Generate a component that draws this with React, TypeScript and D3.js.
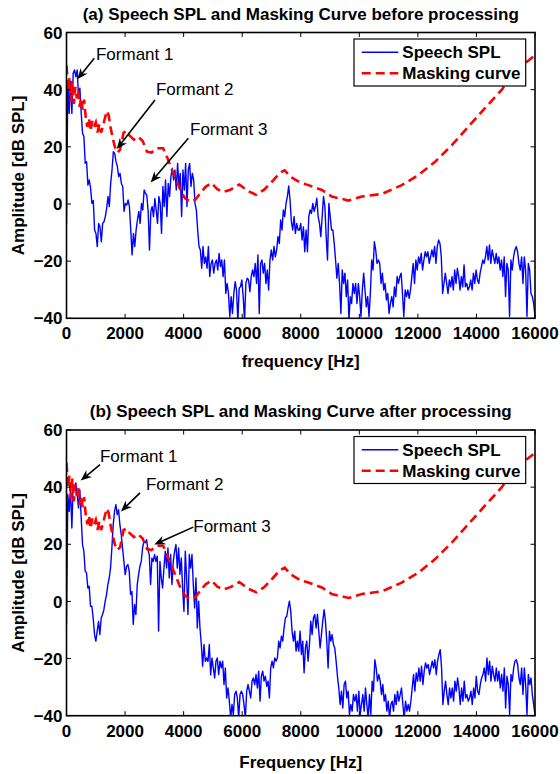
import * as d3 from 'd3';

// x axis: frequency in Hz, y axis: level in dB SPL
const FREQ_MAX = 16000;
const xTicks = [0, 2000, 4000, 6000, 8000, 10000, 12000, 14000, 16000];
const yTicks = [-40, -20, 0, 20, 40, 60];

// speech spectrum before processing, evenly spaced 0..16000 Hz
const speechBefore = [
  -6.8, 43, 31.7, 43, 31.7, 45.7, 46.9, 44.5, 46.9, 37.5, 40.5, 31.7, 24.7, 23.6, 14.2, 14.8, 6.6, 8.4, 5.5, 0.2,
  1.2, -9.1, -10.3, -14.9, -6.8, -8.0, -13.2, -6.8, -6.2, -4.4, -1.5, 2.6, -0.9, 7.2, 11.9, 18.3, 17.7, 14.8, 13.1, 9.6,
  10.7, 7.2, 6.1, -2.6, 0.2, -0.4, 1.4, -0.9, -9.1, -17.8, -10.3, -14.9, -9.1, -5.6, -2.6, -6.8, 0.2, -2.1, 4.9, 3.7,
  3.1, -2.6, -16.1, -2.6, -0.9, -4.4, 1.9, -2.1, -6.8, 2.6, 0.2, -10.3, 6.1, -0.9, 8.4, -4.4, 7.2, 2.6, 9.6, 12.5,
  8.4, 11.9, 4.9, 14.2, 6.1, 10.7, -4.4, 11.9, 4.9, 14.2, -0.9, 11.9, 14.2, 6.1, 10.7, 8.4, 0.2, -2.1, -9.1, -14.9,
  -16.1, -22.5, -14.9, -20.8, -18.5, -22.5, -14.9, -25.4, -20.8, -19.6, -24.2, -20.8, -19.6, -23.1, -17.3, -21.9, -19.6, -25.4, -19.6, -31.3,
  -27.8, -31.3, -39.4, -32.4, -38.3, -31.3, -27.2, -30.1, -41, -29.5, -28.9, -26.6, -32.4, -41, -27.8, -26.0, -26.6, -30.7, -25.4, -23.1,
  -25.4, -20.8, -27.8, -17.8, -38.3, -20.8, -19.6, -24.2, -20.8, -27.8, -23.1, -30.1, -19.6, -16.1, -19.6, -14.9, -18.5, -16.1, -11.4, -13.8,
  -5.6, -9.1, -2.1, -4.4, 0.2, 2.6, 6.3, 1.4, -6.2, -9.1, -4.4, -10.3, -6.8, -9.1,
  -9.1, -6.8, -12.6, -8.0, -16.7, -9.1, -16.7, -4.4, -2.1, -3.3, 0.2, -2.6, -0.9, 2.0, -4.4, -6.8, -11.4, -4.4, 2.6, -0.9,
  -11.4, -19.6, 0.2, -4.4, -9.1, -9.1, -13.8, -19.6, -26.0, -20.8, -27.8, -38.3, -23.1, -27.8, -24.2, -32.4, -26.6, -40.5, -32.4, -34.8,
  -27.8, -31.3, -27.8, -34.8, -27.8, -32.4, -39.4, -30.1, -24.2, -30.1, -36.0, -32.4, -39.4, -31.3, -19.6, -23.1, -13.2, -16.1, -20.8, -19.6,
  -20.8, -27.8, -24.2, -30.1, -27.8, -33.6, -31.3, -38.3, -34.8, -32.4, -36.0, -29.0, -32.4, -25.4, -27.8, -25.4, -24.2, -31.3, -39.4, -30.1,
  -32.4, -30.1, -33.0, -30.1, -25.4, -20.8, -27.8, -19.6, -23.1, -18.5, -20.8, -17.3, -23.1, -19.6, -16.7, -18.5, -16.7, -20.8, -18.5, -16.1,
  -18.5, -14.9, -20.8, -14.9, -12.6, -13.8, -18.5, -31.3, -27.8, -24.2, -27.8, -31.3, -26.6, -29.0, -25.4, -30.1, -23.1, -27.8, -22.5, -25.4,
  -30.1, -25.4, -29.0, -21.3, -29.0, -27.8, -30.1, -29.0, -26.6, -30.1, -24.2, -27.8, -23.1, -26.6, -27.8, -24.2, -21.9, -19.6, -20.8, -18.5,
  -14.9, -19.6, -14.3, -20.8, -16.1, -18.5, -20.8, -17.3, -20.8, -18.5, -23.1, -19.6, -25.4, -18.5, -32.4, -20.8, -23.1, -39.4, -19.6, -23.1,
  -18.5, -16.1, -14.9, -16.7, -20.8, -23.1, -18.5, -27.8, -18.5, -23.1, -39.4, -20.8, -23.1, -31.3, -32.4, -34.8, -39.4,
];

// speech spectrum after processing, evenly spaced 0..16000 Hz
const speechAfter = [
  -8.1, 37.4, 31.5, 39.7, 25.7, 40.3, 39.1, 41.5, 37.4, 32.7, 39.1, 29.4, 19.9, 17.6, 10.6, 10.0, 4.7, 5.3, -1.7, -1.7,
  -5.8, -11.6, -13.9, -10.4, -7.0, -11.6, -5.8, -4.6, -2.9, 0.1, 2.4, 5.9, 8.2, 11.7, 18.7, 26.9, 31.5, 33.9, 30.4, 32.1,
  26.9, 23.4, 18.7, 14.0, 9.4, 12.3, 12.9, 10.6, 2.4, 3.5, -8.1, -1.1, -4.6, 5.9, 9.4, 12.3, 14.0, 18.7, 21.0, 20.5,
  21.6, 18.1, 16.4, 5.9, 15.2, 14.0, 16.4, 14.0, 15.8, -10.4, 14.0, 8.2, 4.7, 11.7, 17.6, 11.7, 18.7, 8.2, 16.4, 5.9,
  14.0, 17.6, 19.9, 11.7, 18.7, 9.4, 15.2, 4.7, -3.5, 17.6, 8.2, -4.6, 16.4, 11.7, 16.4, 5.9, -2.3, 8.2, -9.3, 0.1,
  -9.3, -15.1, -22.7, -15.1, -21.0, -19.8, -21.0, -15.1, -25.7, -19.8, -23.3,
  -26.8, -20.9, -19.8, -25.6, -20.9, -23.3, -20.9, -29.1, -23.3, -33.8, -30.3, -34.9, -40.8, -36.1, -39.6, -32.6, -31.4, -33.8, -40.8, -32.6,
  -31.4, -32.6, -36.1, -40.8, -31.4, -29.1, -31.4, -33.8, -27.9, -26.8, -29.1, -25.6, -30.3, -24.4, -34.9, -26.2, -24.4, -27.9, -26.2, -29.7,
  -27.9, -33.8, -23.3, -20.9, -23.3, -19.8, -20.9, -19.8, -13.9, -16.3, -12.2, -13.9, -9.3, -5.8, -5.2, -2.3, 0.1, -3.4, -10.4, -13.9,
  -10.4, -17.4, -13.9, -17.4,
  -10.4, -18.6, -13.9, -25.0, -16.3, -13.9, -20.9, -15.1, -6.9, -11.6, -5.8, -4.6, -9.3, -4.6, -10.4, -16.3, -11.6, -6.9, -2.9, -6.9,
  -13.9, -23.3, -10.4, -13.9, -11.6, -15.1, -16.3, -20.9, -26.2, -30.3, -36.1, -31.4, -37.3, -29.1, -27.9, -33.8, -31.4, -39.6, -36.1, -38.4,
  -32.6, -34.9, -32.6, -38.4, -31.4, -39.6, -36.1, -32.6, -38.4, -30.3, -36.1, -40.8, -32.6, -39.6, -27.9, -31.4, -20.4, -23.3, -27.9, -25.6,
  -27.9, -32.6, -29.1, -34.9, -32.6, -38.4, -34.9, -40.8, -36.1, -34.9, -38.4, -32.6, -36.1, -31.4, -34.9, -32.6, -30.3, -36.1, -40.8, -34.9,
  -38.4, -36.1, -38.4, -34.9, -30.3, -25.6, -31.4, -25.0, -27.9, -23.3, -27.9, -22.7, -29.1, -24.4, -21.5, -23.3, -22.1, -25.6, -23.3, -20.9,
  -23.3, -20.4, -25.6, -20.9, -18.6, -16.9, -23.3, -36.1, -31.4, -27.9, -32.6, -36.1, -30.3, -33.8, -30.3, -34.9, -27.9, -31.4, -26.8, -30.3,
  -36.1, -30.3, -34.9, -27.9, -33.8, -32.6, -34.9, -33.8, -31.4, -36.1, -30.3, -33.8, -26.2, -31.4, -32.6, -29.1, -26.8, -25.6, -23.3, -27.9,
  -19.8, -25.6, -20.9, -27.9, -22.7, -25.6, -27.9, -23.3, -27.9, -24.4, -30.3, -25.6, -31.4, -23.3, -37.3, -26.2, -29.1, -39.6, -25.6, -27.9,
  -23.3, -20.9, -20.4, -22.1, -26.8, -29.1, -23.3, -32.6, -23.3, -29.1, -39.6, -25.6, -29.1, -26.8, -32.6, -36.1, -39.6,
];

// masking threshold (same in both panels)
const maskFreq = [
  0, 60, 100, 150, 200, 250, 300, 350, 400, 450, 500, 550, 600, 660, 710, 770, 820, 880, 940, 1000,
  1060, 1120, 1180, 1240, 1310, 1380, 1440, 1500, 1570, 1650, 1740, 1830, 1950, 2050, 2150, 2300, 2450, 2600, 2750, 2900,
  3100, 3300, 3450, 3600, 3750, 3900, 4050, 4250, 4400, 4550, 4750, 4950, 5150, 5350, 5600, 5900, 6200, 6480, 6750, 7050,
  7300, 7450, 7650, 7960, 8260, 8720, 9060, 9630, 10090, 10770, 11450, 12020, 12590, 13160, 13720, 14290, 14860, 15320, 16000,
];
const maskLevel = [
  48.5, 40, 44, 36, 43, 35, 41, 37, 40, 34, 37, 33, 36.5, 30, 27, 30, 25.5, 29, 27, 28.5,
  25, 28, 25, 27, 30, 32.5, 31, 27, 23.5, 20, 18, 19, 25, 25.5, 24, 22.5, 23.5, 22, 18.3, 18,
  19.5, 19.5, 16, 12, 8.5, 4.5, 2, 0.8, 1.5, 3.5, 6, 7.3, 5.2, 4.2, 5, 6.8, 4.5, 3.2, 5, 8.2,
  11, 11.8, 9.5, 7.6, 6.6, 4.9, 2.6, 1.2, 2.6, 3.5, 6.6, 10.1, 14.8, 20.6, 27, 33.5, 39.9, 46.5, 52,
];

// formant labels: text anchor (Hz, dB), arrow tail and tip (Hz, dB)
const notesBefore = [
  { label: 'Formant 1', tx: 1007, ty: 52.5, x0: 950, y0: 51, x1: 369, y1: 43.6 },
  { label: 'Formant 2', tx: 3056, ty: 40.1, x0: 3022, y0: 36.4, x1: 1714, y1: 19.2 },
  { label: 'Formant 3', tx: 4218, ty: 26.2, x0: 4160, y0: 23, x1: 2875, y1: 7.5 },
];
const notesAfter = [
  { label: 'Formant 1', tx: 1144, ty: 51.1, x0: 1144, y0: 47.9, x1: 485, y1: 42.3 },
  { label: 'Formant 2', tx: 2715, ty: 41.1, x0: 2510, y0: 38, x1: 1861, y1: 31.5 },
  { label: 'Formant 3', tx: 4330, ty: 26.3, x0: 4330, y0: 26, x1: 2998, y1: 19.9 },
];

const FONT = '"Liberation Sans", Arial, Helvetica, sans-serif';
const LEFT = 66.5;
const RIGHT = 535;

function Arrow({ x0, y0, x1, y1 }) {
  const dx = x1 - x0, dy = y1 - y0;
  const len = Math.hypot(dx, dy);
  const ux = dx / len, uy = dy / len;
  const px = -uy, py = ux;
  const hl = 11, hw = 4.5, notch = 7.5;
  const bx = x1 - ux * hl, by = y1 - uy * hl;
  const nx = x1 - ux * notch, ny = y1 - uy * notch;
  const head = [
    [x1, y1],
    [bx + px * hw, by + py * hw],
    [nx, ny],
    [bx - px * hw, by - py * hw],
  ];
  return (
    <g>
      <line x1={x0} y1={y0} x2={nx} y2={ny} stroke="#000" strokeWidth={1.6} />
      <polygon points={head.map(p => p.join(',')).join(' ')} fill="#000" />
    </g>
  );
}

function Panel({ id, top, bottom, title, titleY, xLabel, xLabelY, speech, notes }) {
  const x = d3.scaleLinear().domain([0, FREQ_MAX]).range([LEFT, RIGHT]);
  const y = d3.scaleLinear().domain([-40, 60]).range([bottom, top]);
  const step = FREQ_MAX / (speech.length - 1);

  const speechPath = d3.line<number>()
    .x((_, i) => x(i * step))
    .y(d => y(d))(speech);
  const maskPath = d3.line<number>()
    .x((_, i) => x(maskFreq[i]))
    .y(d => y(d))(maskLevel);

  const tickLen = 4.5;
  const midX = (LEFT + RIGHT) / 2;
  const legX = 354, legY = top + 6.5;

  return (
    <g fontFamily={FONT}>
      <defs>
        <clipPath id={id}>
          <rect x={LEFT} y={top} width={RIGHT - LEFT} height={bottom - top} />
        </clipPath>
      </defs>

      <g clipPath={`url(#${id})`}>
        <path d={speechPath} fill="none" stroke="#0000ff" strokeWidth={1.4} strokeLinejoin="round" />
        <path d={maskPath} fill="none" stroke="#ff0000" strokeWidth={2.6} strokeDasharray="9,5" />
      </g>

      {/* ticks on all four sides, pointing inwards */}
      {xTicks.map(t => (
        <g key={`x${t}`}>
          <line x1={x(t)} x2={x(t)} y1={bottom} y2={bottom - tickLen} stroke="#000" strokeWidth={1} />
          <line x1={x(t)} x2={x(t)} y1={top} y2={top + tickLen} stroke="#000" strokeWidth={1} />
          <text x={x(t)} y={bottom + 21} textAnchor="middle" fontSize={17} fontWeight="bold">{t}</text>
        </g>
      ))}
      {yTicks.map(t => (
        <g key={`y${t}`}>
          <line x1={LEFT} x2={LEFT + tickLen} y1={y(t)} y2={y(t)} stroke="#000" strokeWidth={1} />
          <line x1={RIGHT} x2={RIGHT - tickLen} y1={y(t)} y2={y(t)} stroke="#000" strokeWidth={1} />
          <text x={LEFT - 4} y={y(t)} dy="0.36em" textAnchor="end" fontSize={17} fontWeight="bold">
            {t < 0 ? `\u2212${-t}` : t}
          </text>
        </g>
      ))}

      <rect x={LEFT} y={top} width={RIGHT - LEFT} height={bottom - top} fill="none" stroke="#000" strokeWidth={1.6} />

      <text x={midX} y={titleY} textAnchor="middle" fontSize={17} fontWeight="bold">{title}</text>
      <text x={midX} y={xLabelY} textAnchor="middle" fontSize={17} fontWeight="bold">{xLabel}</text>
      <text
        transform={`translate(24,${(top + bottom) / 2}) rotate(-90)`}
        textAnchor="middle" fontSize={17} fontWeight="bold"
      >Amplitude [dB SPL]</text>

      {notes.map(n => (
        <g key={n.label}>
          <text x={x(n.tx)} y={y(n.ty)} dy="0.36em" fontSize={17}>{n.label}</text>
          <Arrow x0={x(n.x0)} y0={y(n.y0)} x1={x(n.x1)} y1={y(n.y1)} />
        </g>
      ))}

      {/* legend */}
      <rect x={legX} y={legY} width={171.7} height={47} fill="#fff" stroke="#000" strokeWidth={1.2} />
      <line x1={361.7} x2={398.3} y1={legY + 13.3} y2={legY + 13.3} stroke="#0000ff" strokeWidth={1.4} />
      <text x={402.3} y={legY + 13.3} dy="0.36em" fontSize={17} fontWeight="bold">Speech SPL</text>
      <line x1={361.7} x2={398.3} y1={legY + 34.3} y2={legY + 34.3} stroke="#ff0000" strokeWidth={2.6} strokeDasharray="9,5" />
      <text x={402.3} y={legY + 34.3} dy="0.36em" fontSize={17} fontWeight="bold">Masking curve</text>
    </g>
  );
}

export default function App() {
  return (
    <svg width={560} height={774} style={{ position: 'absolute', left: 0, top: 0, background: '#fff' }}>
      <rect width={560} height={774} fill="#fff" />
      <Panel
        id="clipA" top={32.5} bottom={318.3}
        title="(a) Speech SPL and Masking Curve before processing" titleY={20}
        xLabel="frequency [Hz]" xLabelY={366.5}
        speech={speechBefore} notes={notesBefore}
      />
      <Panel
        id="clipB" top={430} bottom={715.7}
        title="(b) Speech SPL and Masking Curve after processing" titleY={416.5}
        xLabel="Frequency [Hz]" xLabelY={768}
        speech={speechAfter} notes={notesAfter}
      />
    </svg>
  );
}
